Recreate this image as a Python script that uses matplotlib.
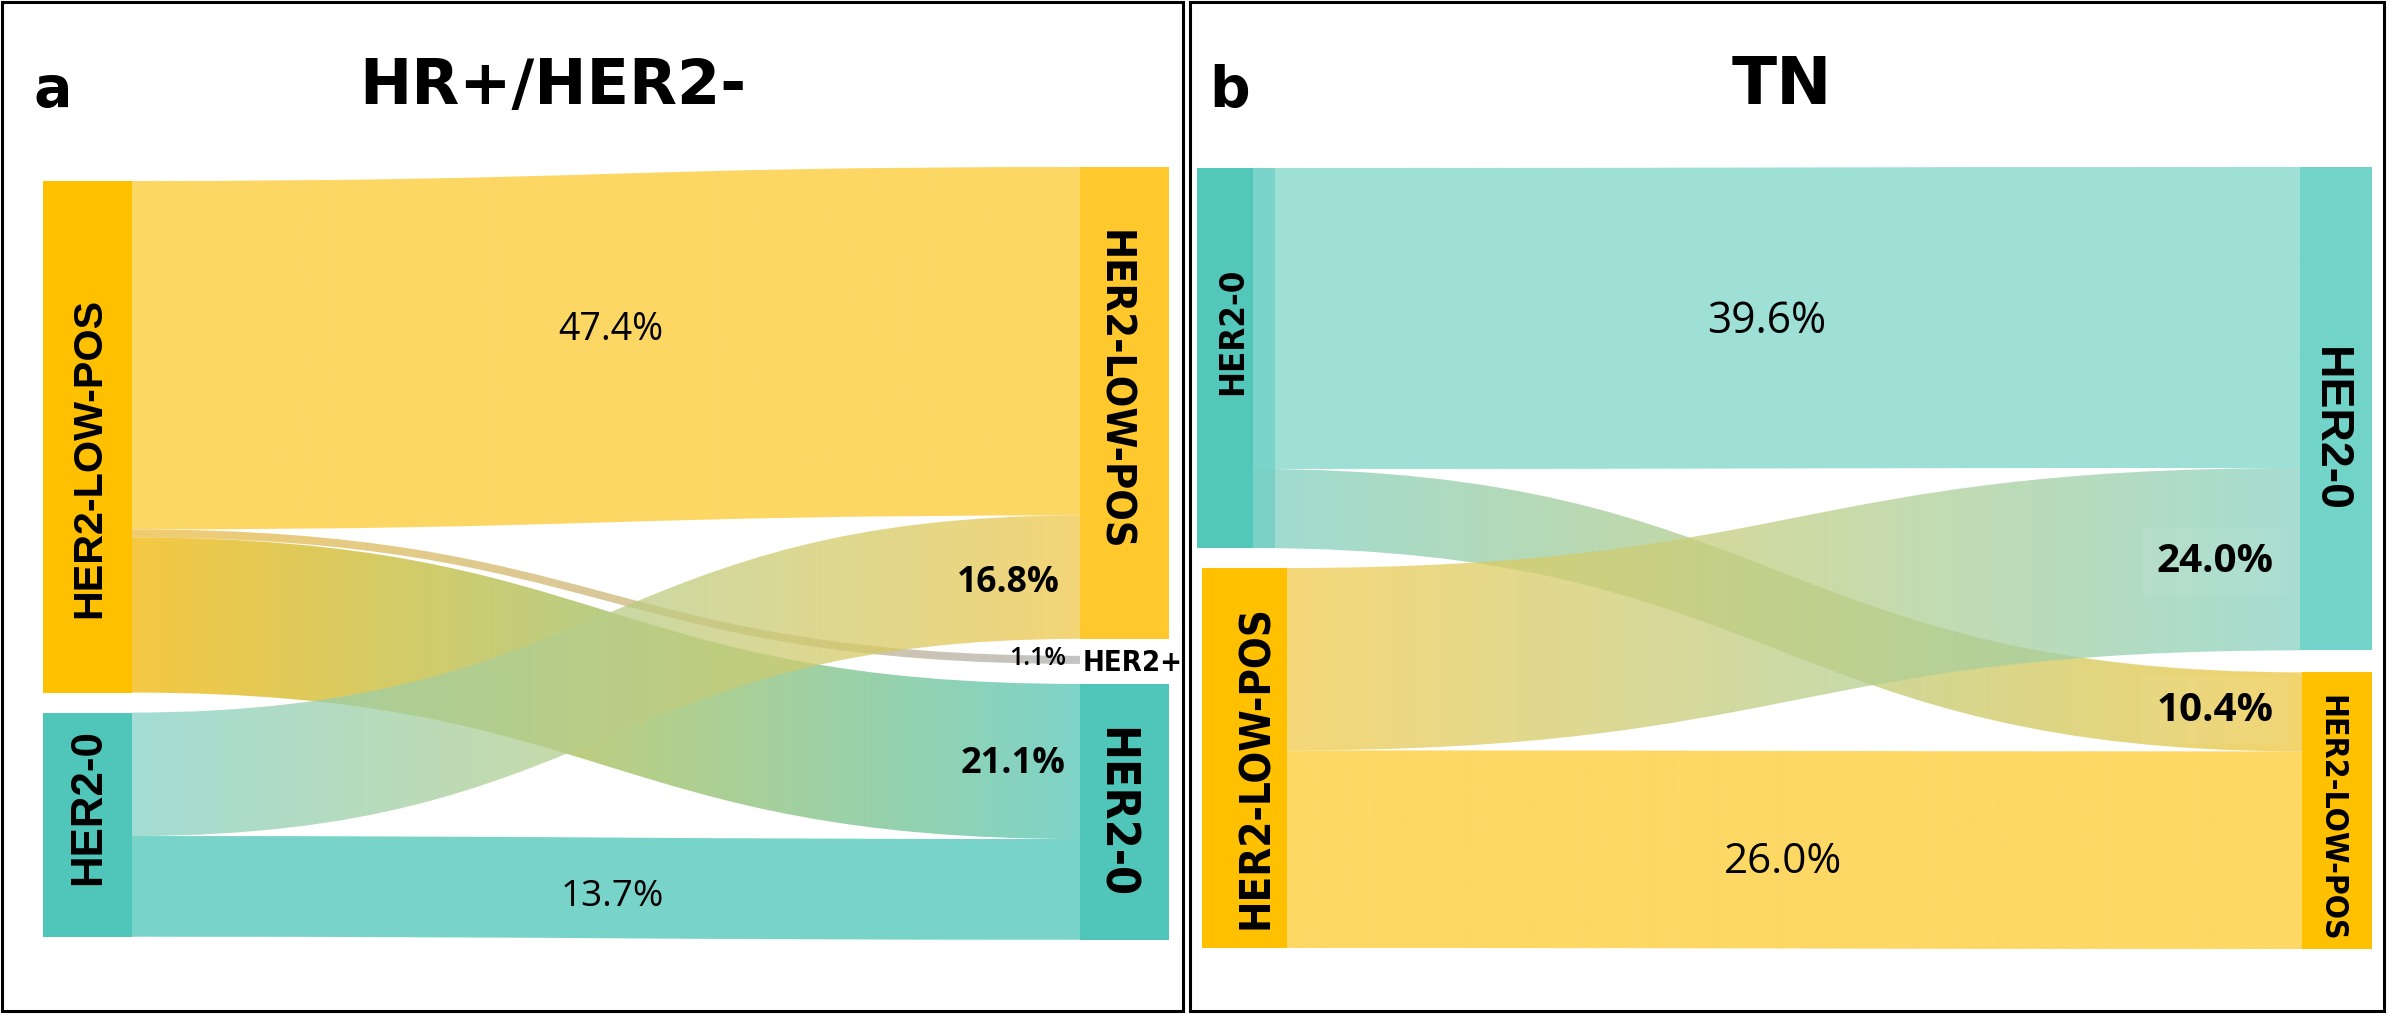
import numpy as np
import matplotlib
matplotlib.use("Agg")
import matplotlib.pyplot as plt
from matplotlib.path import Path
from matplotlib.patches import PathPatch, Rectangle
from matplotlib.colors import to_rgb
from matplotlib import font_manager

# ---------------------------------------------------------------- data
# Panel a: HR+/HER2-  (baseline status -> follow-up status, % of patients)
A_LEFT = ["HER2-LOW-POS", "HER2-0"]
A_RIGHT = ["HER2-LOW-POS", "HER2+", "HER2-0"]
A_SRC = ["HER2-LOW-POS", "HER2-LOW-POS", "HER2-LOW-POS", "HER2-0", "HER2-0"]
A_TGT = ["HER2-LOW-POS", "HER2+", "HER2-0", "HER2-LOW-POS", "HER2-0"]
A_PCT = [47.4, 1.1, 21.1, 16.8, 13.7]

# Panel b: TN
B_LEFT = ["HER2-0", "HER2-LOW-POS"]
B_RIGHT = ["HER2-0", "HER2-LOW-POS"]
B_SRC = ["HER2-0", "HER2-0", "HER2-LOW-POS", "HER2-LOW-POS"]
B_TGT = ["HER2-0", "HER2-LOW-POS", "HER2-0", "HER2-LOW-POS"]
B_PCT = [39.6, 10.4, 24.0, 26.0]

TITLES = ["HR+/HER2-", "TN"]
PANEL_TAGS = ["a", "b"]

# ---------------------------------------------------------------- style
YEL = "#FFC000"
TEAL = "#4FC6B9"

W, H = 2387, 1014
fig = plt.figure(figsize=(W / 100, H / 100), dpi=100)
ax = fig.add_axes([0, 0, 1, 1])
ax.set_xlim(0, W)
ax.set_ylim(H, 0)
ax.axis("off")
renderer = fig.canvas.get_renderer()


def condensed_bold():
    """Pick an installed condensed/narrow bold face, if there is one."""
    prefs = ["Liberation Sans Narrow", "DejaVu Sans", "Roboto Condensed",
             "Open Sans Condensed", "Noto Sans", "Roboto", "Open Sans"]
    cands = []
    for f in font_manager.fontManager.ttflist:
        name = f.name
        fn = f.fname.lower()
        narrow = ("narrow" in name.lower() or "condensed" in name.lower()
                  or "condensed" in fn or "narrow" in fn
                  or str(f.stretch) in ("condensed", "semi-condensed", "extra-condensed"))
        w = f.weight
        try:
            w = int(w)
        except (TypeError, ValueError):
            w = 700 if "bold" in str(w) else 400
        bold = w >= 600 or "bold" in fn
        if narrow and bold and "italic" not in fn and "oblique" not in fn:
            rank = next((i for i, p in enumerate(prefs) if name.startswith(p)), len(prefs))
            cands.append((rank, f.fname))
    if cands:
        cands.sort()
        return font_manager.FontProperties(fname=cands[0][1])
    return font_manager.FontProperties(family="Liberation Sans", weight="bold")


def family_props(family, weight="normal"):
    return font_manager.FontProperties(family=family, weight=weight)


NARROW_B = condensed_bold()
WIDE_B = family_props("Liberation Sans", "bold")
PCT_R = family_props("Open Sans", "normal")
PCT_B = family_props("Open Sans", "bold")
PCT_SB = family_props("Open Sans", "semibold")
TITLE_B = family_props("DejaVu Sans", "bold")


def fit_text(x, y, s, length, props, rotation=0, ha="center", va="baseline"):
    """Place text and scale its font so that it spans `length` pixels."""
    fp = props.copy()
    fp.set_size(20)
    t = ax.text(x, y, s, rotation=rotation, rotation_mode="anchor",
                ha=ha, va=va, fontproperties=fp, zorder=10)
    bb = t.get_window_extent(renderer=renderer)
    cur = bb.height if rotation in (90, -90, 270) else bb.width
    t.set_fontsize(20 * length / cur)
    return t


def column(names, values, top, gaps, scale):
    pos, y = {}, top
    for i, n in enumerate(names):
        h = values[n] * scale
        pos[n] = [y, y + h]
        y += h + (gaps[i] if i < len(gaps) else 0)
    return pos


def link(x0, x1, y0t, y0b, y1t, y1b, c0, c1, alpha, z):
    xm = (x0 + x1) / 2
    verts = [(x0, y0t), (xm, y0t), (xm, y1t), (x1, y1t), (x1, y1b),
             (xm, y1b), (xm, y0b), (x0, y0b), (x0, y0t)]
    codes = [Path.MOVETO, Path.CURVE4, Path.CURVE4, Path.CURVE4, Path.LINETO,
             Path.CURVE4, Path.CURVE4, Path.CURVE4, Path.CLOSEPOLY]
    patch = PathPatch(Path(verts, codes), facecolor="none", edgecolor="none")
    ax.add_patch(patch)
    g = np.linspace(0, 1, 256)[:, None]
    rgb = np.array(to_rgb(c0)) * (1 - g) + np.array(to_rgb(c1)) * g
    rgba = np.concatenate([rgb, np.full((256, 1), alpha)], axis=1)[None]
    im = ax.imshow(rgba, extent=[x0, x1, max(y0b, y1b) + 1, min(y0t, y1t) - 1],
                   aspect="auto", interpolation="bilinear", zorder=z)
    im.set_clip_path(patch)


def sankey(left, right, src, tgt, pct, scale, ltop, lgaps, rtop, rgaps,
           lx, rx, node_colors, link_styles):
    lval = {n: sum(p for s, p in zip(src, pct) if s == n) for n in left}
    rval = {n: sum(p for t, p in zip(tgt, pct) if t == n) for n in right}
    lpos = column(left, lval, ltop, lgaps, scale)
    rpos = column(right, rval, rtop, rgaps, scale)
    # nodes
    for n in left:
        x0, x1 = lx[n]
        ax.add_patch(Rectangle((x0, lpos[n][0]), x1 - x0, lpos[n][1] - lpos[n][0],
                               color=node_colors[("L", n)], lw=0, zorder=5))
    for n in right:
        c = node_colors[("R", n)]
        if c is None:
            continue
        x0, x1 = rx[n]
        ax.add_patch(Rectangle((x0, rpos[n][0]), x1 - x0, rpos[n][1] - rpos[n][0],
                               color=c, lw=0, zorder=5))
    # links: stacked on the source in target order, on the target in source order
    lcur = {n: lpos[n][0] for n in left}
    ystart = {}
    for i in sorted(range(len(pct)), key=lambda i: (left.index(src[i]), right.index(tgt[i]))):
        h = pct[i] * scale
        ystart[i] = (lcur[src[i]], lcur[src[i]] + h)
        lcur[src[i]] += h
    rcur = {n: rpos[n][0] for n in right}
    yend = {}
    for i in sorted(range(len(pct)), key=lambda i: (right.index(tgt[i]), left.index(src[i]))):
        h = pct[i] * scale
        yend[i] = (rcur[tgt[i]], rcur[tgt[i]] + h)
        rcur[tgt[i]] += h
    for i in range(len(pct)):
        c0, c1, a, z = link_styles[i]
        link(lx[src[i]][1], rx[tgt[i]][0], ystart[i][0], ystart[i][1],
             yend[i][0], yend[i][1], c0, c1, a, z)
    return lpos, rpos


# ---------------------------------------------------------------- panel a
sankey(A_LEFT, A_RIGHT, A_SRC, A_TGT, A_PCT, scale=7.35,
       ltop=181, lgaps=[20], rtop=167, rgaps=[17, 20],
       lx={"HER2-LOW-POS": (43, 132), "HER2-0": (43, 132)},
       rx={"HER2-LOW-POS": (1080, 1169), "HER2+": (1080, 1169), "HER2-0": (1080, 1169)},
       node_colors={("L", "HER2-LOW-POS"): YEL, ("L", "HER2-0"): TEAL,
                    ("R", "HER2-LOW-POS"): "#FFC82D", ("R", "HER2+"): None,
                    ("R", "HER2-0"): TEAL},
       link_styles=[("#FCD764", "#FCD764", 1.0, 2),
                    ("#EEC860", "#BDBDBD", 0.9, 3),
                    ("#F2B603", "#53C6B6", 0.75, 3),
                    ("#84D2C6", "#EFC84A", 0.75, 3),
                    ("#78D4C9", "#78D4C9", 1.0, 2)])

# ---------------------------------------------------------------- panel b
sankey(B_LEFT, B_RIGHT, B_SRC, B_TGT, B_PCT, scale=7.6,
       ltop=168, lgaps=[20], rtop=167, rgaps=[22],
       lx={"HER2-0": (1197, 1253), "HER2-LOW-POS": (1202, 1287)},
       rx={"HER2-0": (2300, 2372), "HER2-LOW-POS": (2302, 2372)},
       node_colors={("L", "HER2-0"): "#52C7BA", ("L", "HER2-LOW-POS"): YEL,
                    ("R", "HER2-0"): "#72D3C8", ("R", "HER2-LOW-POS"): YEL},
       link_styles=[("#9EE0D6", "#9EE0D6", 1.0, 2),
                    ("#7FD0C4", "#EEC63B", 0.75, 3),
                    ("#F2CA4B", "#88D2C3", 0.75, 3),
                    ("#FDD865", "#FDD865", 1.0, 2)])
# lighter lip on the left HER2-0 node
ax.add_patch(Rectangle((1253, 168), 22, 380, color="#52C7BA", alpha=0.45, lw=0, zorder=4))

# ---------------------------------------------------------------- frames
ax.add_patch(Rectangle((2, 2), 1181, 1009, fill=False, ec="black", lw=2.2, zorder=20))
ax.add_patch(Rectangle((1190, 2), 1194, 1009, fill=False, ec="black", lw=2.2, zorder=20))

# ---------------------------------------------------------------- titles
fit_text(553, 104, TITLES[0], 386, TITLE_B)
fit_text(1782, 104, TITLES[1], 100, TITLE_B)
tag_fp = TITLE_B.copy()
tag_fp.set_size(41)
ax.text(33, 107, PANEL_TAGS[0], fontproperties=tag_fp, ha="left", va="baseline", zorder=10)
ax.text(1209, 107, PANEL_TAGS[1], fontproperties=tag_fp, ha="left", va="baseline", zorder=10)

# ---------------------------------------------------------------- node labels
fit_text(100, 458, "HER2-LOW-POS", 320, WIDE_B, rotation=90)
fit_text(100, 807, "HER2-0", 156, WIDE_B, rotation=90)
fit_text(1102, 390, "HER2-LOW-POS", 320, NARROW_B, rotation=-90)
fit_text(1102, 813, "HER2-0", 171, NARROW_B, rotation=-90)
fit_text(1083, 671, "HER2+", 100, NARROW_B, ha="left")

fit_text(1242, 331, "HER2-0", 127, NARROW_B, rotation=90)
fit_text(1268, 767, "HER2-LOW-POS", 323, NARROW_B, rotation=90)
fit_text(2318, 429, "HER2-0", 165, WIDE_B, rotation=-90)
fit_text(2322, 818, "HER2-LOW-POS", 247, NARROW_B, rotation=-90)

# ---------------------------------------------------------------- value labels
pa = dict(zip(zip(A_SRC, A_TGT), A_PCT))
pb = dict(zip(zip(B_SRC, B_TGT), B_PCT))
fmt = "{:.1f}%".format
fit_text(611, 340, fmt(pa[("HER2-LOW-POS", "HER2-LOW-POS")]), 105, PCT_R)
fit_text(1008, 592, fmt(pa[("HER2-0", "HER2-LOW-POS")]), 103, PCT_B)
fit_text(1038, 665, fmt(pa[("HER2-LOW-POS", "HER2+")]), 57, PCT_SB)
fit_text(1013, 773, fmt(pa[("HER2-LOW-POS", "HER2-0")]), 105, PCT_B)
fit_text(612, 906, fmt(pa[("HER2-0", "HER2-0")]), 103, PCT_R)

fit_text(1767, 333, fmt(pb[("HER2-0", "HER2-0")]), 119, PCT_R)
for xy, key in (((2215, 572), ("HER2-LOW-POS", "HER2-0")),
                ((2215, 721), ("HER2-0", "HER2-LOW-POS"))):
    t = fit_text(xy[0], xy[1], fmt(pb[key]), 117, PCT_B)
    t.set_bbox(dict(boxstyle="square,pad=0.35", fc="white", ec="none", alpha=0.06))
fit_text(1783, 873, fmt(pb[("HER2-LOW-POS", "HER2-LOW-POS")]), 118, PCT_R)

ax.set_xlim(0, W)
ax.set_ylim(H, 0)
fig.savefig("out.png", dpi=100, facecolor="white")
